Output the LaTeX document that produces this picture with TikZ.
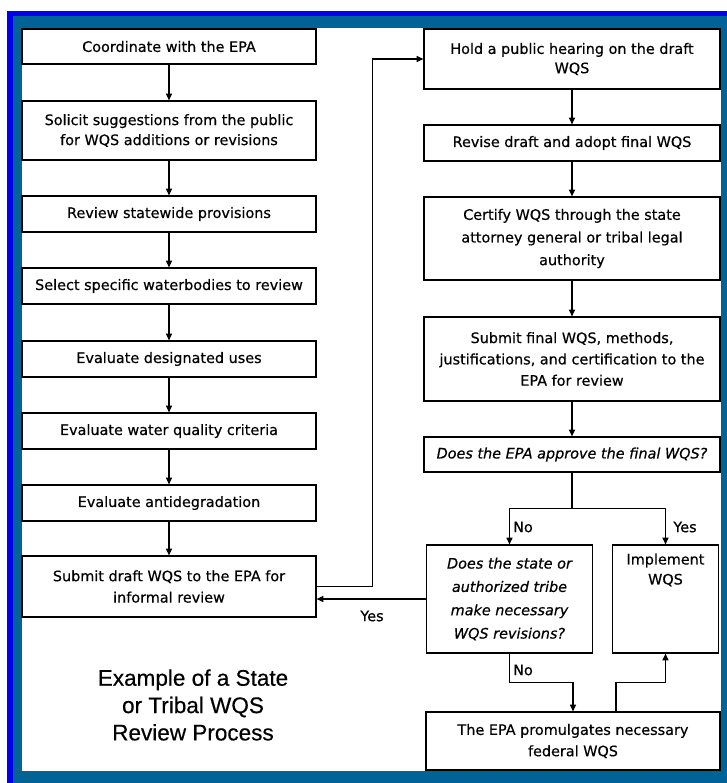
\documentclass[tikz,border=0pt]{standalone}
\usepackage{fontspec}
\setmainfont{DejaVu Sans}[FakeBold=0.5]
\newfontfamily\titlefont{Liberation Sans}[FakeBold=0.4]
\usetikzlibrary{arrows.meta}
\definecolor{frameblue}{RGB}{0,0,235}
\definecolor{frameteal}{RGB}{0,98,150}

\begin{document}
\begin{tikzpicture}[
    x=0.75pt, y=-0.75pt,
    box/.style={draw, line width=0.9pt, align=center, inner sep=1pt, font=\fontsize{10.8}{16}\selectfont},
    lbox/.style={box, minimum width=220.5pt},
    rbox/.style={box, minimum width=222pt},
    ask/.style={box, font=\itshape\fontsize{10.8}{17.5}\selectfont},
    lbl/.style={font=\fontsize{10.8}{12}\selectfont, inner sep=1pt},
    arr/.style={-{Triangle[length=5pt,width=4.5pt]}, line width=0.9pt},
    link/.style={line width=0.9pt},
  ]
    \useasboundingbox (0,0) rectangle (727,783);
    % === frame ===
    \fill[white] (0,0) rectangle (727,783);
    \fill[frameblue] (7,11) rectangle (727,783);
    \fill[frameteal] (13,16) rectangle (727,783);
    \fill[white] (22,28) rectangle (721,771);

    % === left column ===
    \node[lbox, minimum height=26.3pt] (coord) at (169,46.5) {Coordinate with the EPA};
    \node[lbox, minimum height=44.3pt, font=\fontsize{10.8}{15}\selectfont] (solicit) at (169,130.5) {Solicit suggestions from the public\\for WQS additions or revisions};
    \node[lbox, minimum height=27pt] (statewide) at (169,214) {Review statewide provisions};
    \node[lbox, minimum height=27pt] (select) at (169,286) {Select specific waterbodies to review};
    \node[lbox, minimum height=27pt] (uses) at (169,359) {Evaluate designated uses};
    \node[lbox, minimum height=27pt] (criteria) at (169,431) {Evaluate water quality criteria};
    \node[lbox, minimum height=27pt] (antideg) at (169,503) {Evaluate antidegradation};
    \node[lbox, minimum height=45.8pt] (draft) at (169,586.5) {Submit draft WQS to the EPA for\\informal review};

    \draw[arr] (coord) -- (solicit);
    \draw[arr] (solicit) -- (statewide);
    \draw[arr] (statewide) -- (select);
    \draw[arr] (select) -- (uses);
    \draw[arr] (uses) -- (criteria);
    \draw[arr] (criteria) -- (antideg);
    \draw[arr] (antideg) -- (draft);

    % title
    \node[font=\titlefont\fontsize{16.9}{20.5}\selectfont, align=center] (title) at (193,705) {Example of a State\\or Tribal WQS\\Review Process};

    % === right column ===
    \node[rbox, minimum height=45pt, font=\fontsize{10.8}{14.5}\selectfont] (hearing) at (572,59) {Hold a public hearing on the draft\\WQS};
    \node[rbox, minimum height=27pt] (adopt) at (572,143) {Revise draft and adopt final WQS};
    \node[rbox, minimum height=62.3pt, font=\fontsize{10.8}{17}\selectfont] (certify) at (572,238.5) {Certify WQS through the state\\attorney general or tribal legal\\authority};
    \node[rbox, minimum height=63pt] (final) at (572,359) {Submit final WQS, methods,\\justifications, and certification to the\\EPA for review};
    \node[ask, minimum width=222pt, minimum height=26.3pt] (approve) at (572,454.5) {Does the EPA approve the final WQS?};

    \draw[arr] (draft.east) -- ++(56,0) |- (hearing.west);
    \draw[arr] (hearing) -- (adopt);
    \draw[arr] (adopt) -- (certify);
    \draw[arr] (certify) -- (final);
    \draw[arr] (final) -- (approve);

    % === decision ===
    \node[ask, minimum width=125pt, minimum height=81pt] (revise) at (509.5,599) {Does the state or\\authorized tribe\\make necessary\\WQS revisions?};
    \node[box, minimum width=80pt, minimum height=81pt, font=\fontsize{10.8}{15}\selectfont] (implement) at (665.5,599) {Implement\\WQS\\[30pt]};
    \node[box, minimum width=220.5pt, minimum height=43.5pt] (promulgate) at (573,741) {The EPA promulgates necessary\\federal WQS};

    \draw[link] (approve.south) -- ++(0,36) coordinate (split);
    \draw[arr] (split) -| (revise.north);
    \draw[arr] (split) -| (implement.north);
    \draw[arr] (revise.west) -- (revise.west -| draft.east);
    \draw[arr] (revise.south) -- ++(0,29) -| (promulgate.north);
    \draw[arr] (promulgate.north) ++(43,0) -- ++(0,-29) -| (implement.south);

    \node[lbl] (no1) at (523,527) {No};
    \node[lbl] (yes1) at (685,527) {Yes};
    \node[lbl] (yes2) at (372,616) {Yes};
    \node[lbl] (no2) at (523,670) {No};
  \end{tikzpicture}
\end{document}
